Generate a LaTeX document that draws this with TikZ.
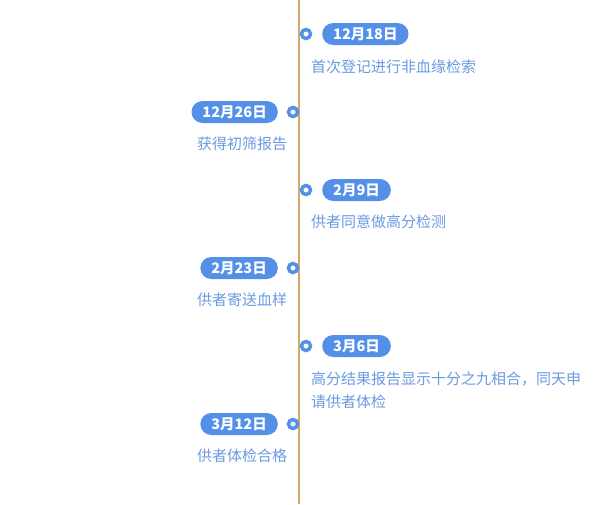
\documentclass[tikz,border=0pt]{standalone}
\usepackage{fontspec}
\setmainfont{Noto Sans CJK SC}
\usepackage{tikz}
\usetikzlibrary{positioning}
\definecolor{tlline}{HTML}{D2A868}
\definecolor{tlblue}{HTML}{5590E8}
\definecolor{tltext}{HTML}{6A9AE0}

\begin{document}
\begin{tikzpicture}[x=1pt, y=-1pt,
    dot/.style={circle, draw=tlblue, line width=3.5pt, fill=white, minimum size=9pt, inner sep=0pt},
    datepill/.style={rectangle, rounded corners=11pt, fill=tlblue, text=white,
                     minimum height=22pt, inner xsep=11pt, inner ysep=0pt, font=\fontsize{14.5}{16}\selectfont\bfseries},
    event/.style={text=tltext, align=left, inner sep=0pt, font=\fontsize{15}{23}\selectfont}
]
\useasboundingbox (0,0) rectangle (600,504);
\coordinate (top) at (299,0);
\coordinate (bottom) at (299,504);
\draw[tlline, line width=1.2pt] (top) -- (bottom);

% right side
\node[dot] (d1) at (306,34) {};
\node[datepill, anchor=west] (p1) at (322,34) {12月18日};
\node[event, anchor=west] (t1) at (311,67) {首次登记进行非血缘检索};

\node[dot] (d3) at (306,190) {};
\node[datepill, anchor=west] (p3) at (322,190) {2月9日};
\node[event, anchor=west] (t3) at (311,222) {供者同意做高分检测};

\node[dot] (d5) at (306,346) {};
\node[datepill, anchor=west] (p5) at (322,346) {3月6日};
\node[event, anchor=west] (t5) at (311,390.5) {高分结果报告显示十分之九相合，同天申\\请供者体检};

% left side
\node[dot] (d2) at (293,112) {};
\node[datepill, anchor=east] (p2) at (278,112) {12月26日};
\node[event, anchor=west] (t2) at (197,144) {获得初筛报告};

\node[dot] (d4) at (293,268) {};
\node[datepill, anchor=east] (p4) at (278,268) {2月23日};
\node[event, anchor=west] (t4) at (197,300) {供者寄送血样};

\node[dot] (d6) at (293,424) {};
\node[datepill, anchor=east] (p6) at (278,424) {3月12日};
\node[event, anchor=west] (t6) at (197,456) {供者体检合格};
\end{tikzpicture}
\end{document}
